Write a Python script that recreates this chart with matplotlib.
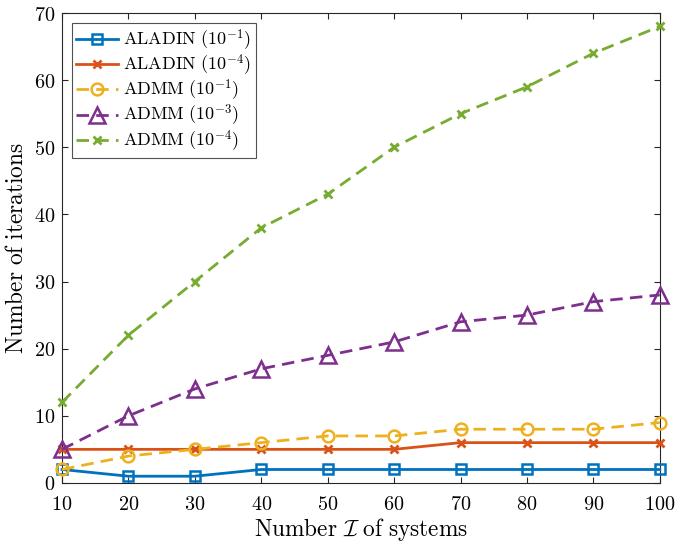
import matplotlib
matplotlib.use("Agg")
import matplotlib.pyplot as plt

plt.rcParams['mathtext.fontset'] = 'cm'
plt.rcParams['font.family'] = ['DejaVu Serif']

x = [10, 20, 30, 40, 50, 60, 70, 80, 90, 100]
aladin_1 = [2, 1, 1, 2, 2, 2, 2, 2, 2, 2]
aladin_4 = [5, 5, 5, 5, 5, 5, 6, 6, 6, 6]
admm_1 = [2, 4, 5, 6, 7, 7, 8, 8, 8, 9]
admm_3 = [5, 10, 14, 17, 19, 21, 24, 25, 27, 28]
admm_4 = [12, 22, 30, 38, 43, 50, 55, 59, 64, 68]

labels = [r'$\mathrm{ALADIN}\ (10^{-1})$', r'$\mathrm{ALADIN}\ (10^{-4})$',
          r'$\mathrm{ADMM}\ (10^{-1})$', r'$\mathrm{ADMM}\ (10^{-3})$',
          r'$\mathrm{ADMM}\ (10^{-4})$']
xticks = [10, 20, 30, 40, 50, 60, 70, 80, 90, 100]
yticks = [0, 10, 20, 30, 40, 50, 60, 70]

fig = plt.figure(figsize=(6.76, 5.42), dpi=100)
ax = fig.add_axes([0.0917, 0.109, 0.8843, 0.867])

c = ['#0072BD', '#D95319', '#EDB120', '#7E2F8E', '#77AC30']
lw = 2.0
dash = (4.5, 2.6)
common = dict(lw=lw, clip_on=False, zorder=3)
ax.plot(x, aladin_1, '-', color=c[0], marker='s', ms=6.5, mfc='none', mew=1.8, label=labels[0], **common)
ax.plot(x, aladin_4, '-', color=c[1], marker='x', ms=5.5, mew=2.0, label=labels[1], **common)
ax.plot(x, admm_1, '--', color=c[2], marker='o', ms=8.5, mfc='none', mew=1.8, label=labels[2], dashes=dash, **common)
ax.plot(x, admm_3, '--', color=c[3], marker='^', ms=11, mfc='none', mew=1.8, label=labels[3], dashes=dash, **common)
ax.plot(x, admm_4, '--', color=c[4], marker='x', ms=5.5, mew=2.0, label=labels[4], dashes=dash, **common)

ax.set_xlim(10, 100)
ax.set_ylim(0, 70)
ax.set_xticks(xticks)
ax.set_xticklabels([f'${t}$' for t in xticks])
ax.set_yticks(yticks)
ax.set_yticklabels([f'${t}$' for t in yticks])
ax.tick_params(direction='in', top=True, right=True, labelsize=14.5, length=4.5, color='#262626')
ax.tick_params(axis='x', pad=9)
ax.tick_params(axis='y', pad=5)
for s in ax.spines.values():
    s.set_color('#262626')
    s.set_linewidth(0.8)

ax.set_xlabel(r'$\mathrm{Number}\ \mathcal{I}\ \mathrm{of\ systems}$', fontsize=16.8, labelpad=1)
ax.set_ylabel(r'$\mathrm{Number\ of\ iterations}$', fontsize=16.8, labelpad=4)

leg = ax.legend(loc='upper left', fontsize=13.0, frameon=True, fancybox=False,
                edgecolor='#262626', borderaxespad=0.55, handlelength=2.3,
                labelspacing=0.0, borderpad=0.25, handletextpad=0.3)
leg.get_frame().set_linewidth(0.8)

fig.savefig('out.png', dpi=100)
